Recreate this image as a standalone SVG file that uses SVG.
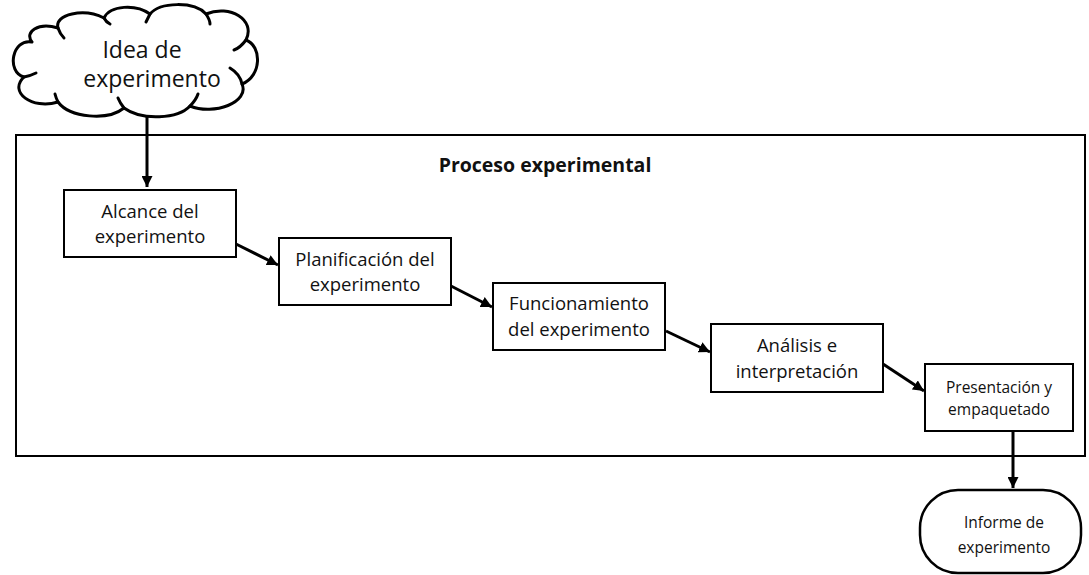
<svg xmlns="http://www.w3.org/2000/svg" width="1089" height="575" viewBox="0 0 1089 575">
<style>
.box{fill:#fff;stroke:#000;stroke-width:2}
.t{font-family:"Open Sans","Liberation Sans",sans-serif;font-size:18.5px;fill:#111;text-anchor:middle}
.ts{font-family:"Open Sans","Liberation Sans",sans-serif;font-size:15.5px;fill:#111;text-anchor:middle}
.conn{fill:none;stroke:#000;stroke-width:3}
</style>
<defs>
<marker id="ah" viewBox="0 0 10 10" refX="10" refY="5" markerUnits="userSpaceOnUse" markerWidth="11" markerHeight="11" orient="auto">
<path d="M0,0 L10,5 L0,10 Z" fill="#000"/>
</marker>
</defs>
<rect width="1089" height="575" fill="#fff"/>
<g id="frame">
<rect x="16" y="135" width="1069" height="321" fill="none" stroke="#000" stroke-width="2"/>
<text x="545" y="172" font-family="'Open Sans','Liberation Sans',sans-serif" font-weight="bold" font-size="19.5" text-anchor="middle" fill="#111">Proceso experimental</text>
</g>
<g id="idea">
<path d="M32,42 C12,38 6,72 24,77 C8,92 32,110 58,102 C70,118 108,121 124,108 C142,121 178,119 190,106 C214,116 250,102 242,84 C262,76 262,46 246,40 C256,20 230,4 206,14 C194,1 160,2 150,14 C136,4 110,5 104,18 C84,8 54,14 58,28 C38,22 24,32 32,42 Z" fill="#fff" stroke="#000" stroke-width="3" stroke-linejoin="round"/>
<path d="M24,77 Q30,76 36,73 M58,102 Q56,98 55,94 M124,108 Q120,103 118,98 M190,106 Q196,100 198,94 M242,84 Q240,74 230,68 M246,40 Q240,48 234,50 M206,14 Q210,20 210,24 M150,14 Q148,18 146,22 M104,18 Q106,22 110,24 M58,28 Q60,34 64,38" fill="none" stroke="#000" stroke-width="3" stroke-linecap="round"/>
<text x="142" y="58" font-family="'Open Sans','Liberation Sans',sans-serif" font-size="23" text-anchor="middle" fill="#111">Idea de</text>
<text x="152" y="87" font-family="'Open Sans','Liberation Sans',sans-serif" font-size="23" text-anchor="middle" fill="#111">experimento</text>
</g>
<g id="alcance">
<rect class="box" x="64" y="190" width="172" height="67"/>
<text class="t" x="150" y="218">Alcance del</text>
<text class="t" x="150" y="243">experimento</text>
</g>
<g id="planificacion">
<rect class="box" x="279" y="238" width="172" height="67"/>
<text class="t" x="365" y="266">Planificación del</text>
<text class="t" x="365" y="291">experimento</text>
</g>
<g id="funcionamiento">
<rect class="box" x="493" y="283" width="172" height="67"/>
<text class="t" x="579" y="310">Funcionamiento</text>
<text class="t" x="579" y="336">del experimento</text>
</g>
<g id="analisis">
<rect class="box" x="711" y="324" width="172" height="68"/>
<text class="t" x="797" y="352">Análisis e</text>
<text class="t" x="797" y="378">interpretación</text>
</g>
<g id="presentacion">
<rect class="box" x="925" y="364" width="148" height="67"/>
<text class="ts" x="999" y="393">Presentación y</text>
<text class="ts" x="999" y="415">empaquetado</text>
</g>
<g id="informe">
<rect x="920" y="490" width="161" height="83" rx="38" ry="38" fill="#fff" stroke="#000" stroke-width="2.5"/>
<text class="ts" x="1004" y="528">Informe de</text>
<text class="ts" x="1004" y="553">experimento</text>
</g>
<g id="connectors">
<line class="conn" x1="147" y1="116" x2="147" y2="187" marker-end="url(#ah)"/>
<line class="conn" x1="236" y1="244" x2="278" y2="265" marker-end="url(#ah)"/>
<line class="conn" x1="451" y1="286" x2="492" y2="307" marker-end="url(#ah)"/>
<line class="conn" x1="666" y1="331" x2="710" y2="352" marker-end="url(#ah)"/>
<line class="conn" x1="883" y1="364" x2="924" y2="391" marker-end="url(#ah)"/>
<line class="conn" x1="1013" y1="431" x2="1013" y2="488" marker-end="url(#ah)"/>
</g>
</svg>
